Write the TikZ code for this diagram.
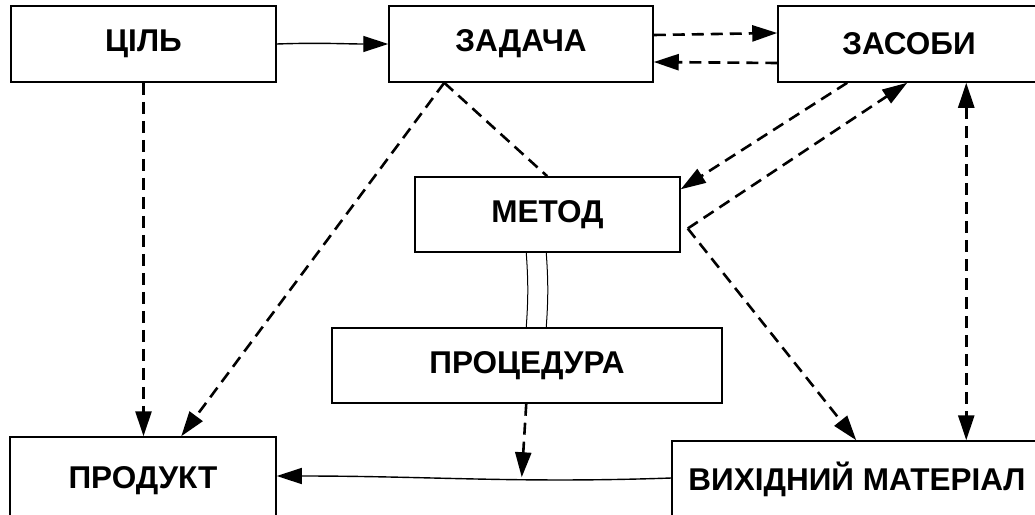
\documentclass[tikz,border=0pt]{standalone}
\usepackage{fontspec}
\setmainfont{Liberation Sans}
\usetikzlibrary{arrows.meta,calc}
\begin{document}
\begin{tikzpicture}[x=1pt,y=-1pt,
  box/.style={draw,line width=1.5pt,rectangle,inner sep=0pt,font=\fontsize{31.5}{36}\selectfont\bfseries},
  dl/.style={line width=2.6pt,dash pattern=on 12pt off 7pt},
  sl/.style={line width=1.4pt},
  tip/.style={-{Triangle[length=25pt,width=16pt]}},
  btip/.style={{Triangle[length=25pt,width=16pt]}-{Triangle[length=25pt,width=16pt]}}
]
\useasboundingbox[fill=white] (0,0) rectangle (1035,514);
\node[box,minimum width=265pt,minimum height=76pt] (cil) at (143.5,44) {ЦІЛЬ};
\node[box,minimum width=264pt,minimum height=76pt] (zad) at (521,44) {ЗАДАЧА};
\node[box,minimum width=262pt,minimum height=76pt] (zas) at (909,44) {ЗАСОБИ};
\node[box,minimum width=265pt,minimum height=75pt] (met) at (547.5,214.5) {МЕТОД};
\node[box,minimum width=390pt,minimum height=75pt] (proc) at (527,365.5) {ПРОЦЕДУРА};
\node[box,minimum width=266pt,minimum height=90pt] (prod) at (143,482) {\raisebox{10pt}{ПРОДУКТ}};
\node[box,minimum width=370pt,minimum height=90pt] (vykh) at (857,486) {\raisebox{20pt}{ВИХІДНИЙ МАТЕРІАЛ}};

% solid
\coordinate (pe) at ([yshift=6pt]prod.east);
\coordinate (vw) at ([yshift=8pt]vykh.west);
\draw[sl,tip] (cil.east) to[out=2,in=180] (zad.west);
\draw[sl,tip] (vw) to[out=182,in=0] (pe);
\coordinate (mid) at ($(pe)!0.621!(vw)$);

% dashed
\draw[dl,tip] ([yshift=9pt]zad.east) -- ([yshift=11pt]zas.west);
\draw[dl,tip] ([yshift=-19pt]zas.west) -- ([yshift=-18pt]zad.east);
\draw[dl,tip] (cil.south) -- (cil.south |- prod.north);
\draw[dl,tip] ([xshift=56pt]zad.south west) -- ([xshift=172pt]prod.north west);
\draw[dl] ([xshift=56pt]zad.south west) -- ([xshift=133pt]met.north west);
\draw[dl,tip] ([xshift=70pt]zas.south west) -- ([yshift=-13pt]met.north east);
\coordinate (mr) at ([xshift=7pt,yshift=-14pt]met.east);
\draw[dl,tip] (mr) -- ([xshift=130pt]zas.south west);
\draw[dl,tip] (mr) -- ([xshift=185pt]vykh.north west);
\draw[dl,btip] ([xshift=189pt]zas.south west) -- ([xshift=189pt]zas.south west |- vykh.north);
\draw[dl,tip] ([xshift=195pt]proc.south west) -- (mid);

% double line
\draw[line width=1pt] ([xshift=112pt]met.south west) to[bend left=4] ([xshift=195pt]proc.north west);
\draw[line width=1pt] ([xshift=132pt]met.south west) to[bend left=4] ([xshift=215pt]proc.north west);
\end{tikzpicture}
\end{document}
